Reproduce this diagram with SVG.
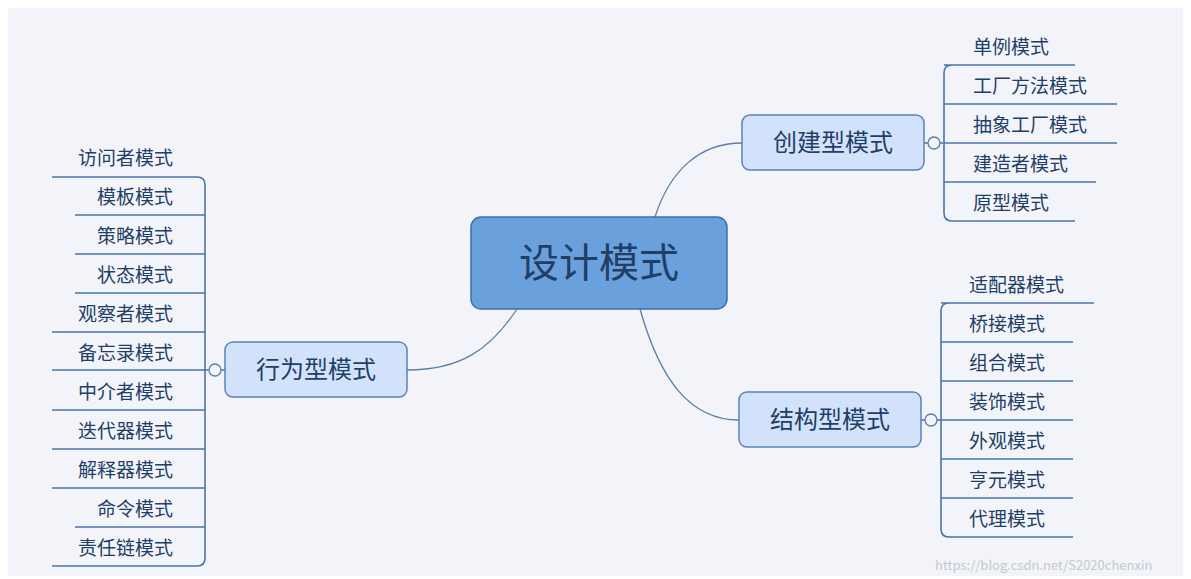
<svg xmlns="http://www.w3.org/2000/svg" width="1191" height="579" viewBox="0 0 1191 579">
<style>
text{font-family:"Noto Sans CJK SC","Liberation Sans",sans-serif;fill:#1f3f66}
.it{font-size:19px}
.sub{fill:#d3e2fb;stroke:#5b83b5;stroke-width:1.5}
.st{font-size:24px}
.ln{fill:none;stroke:#4a74a8;stroke-width:1.6}
.cur{fill:none;stroke:#5a7ea8;stroke-width:1.3}
.c{fill:#f3f4f9;stroke:#5a7ea8;stroke-width:1.3}
</style>
<rect width="1191" height="579" fill="#fff"/>
<rect x="8" y="8" width="1175" height="568" fill="#f3f4f9"/>
<g id="connectors">
<path class="cur" d="M655,217 C670,170 700,143 742,143"/>
<path class="cur" d="M640,309 C660,380 690,420 739,420"/>
<path class="cur" d="M517,309 C490,350 460,370 407,370"/>
<path class="ln" d="M924,143 H928 M940,143 H1117 M944,65 H1075 M952,65 Q944,65 944,73 V213 Q944,221 952,221 H1075 M944,104 H1117 M944,182 H1096"/>
<path class="ln" d="M921,420 H925 M937,420 H1073 M941,303 H1094 M949,303 Q941,303 941,311 V529 Q941,537 949,537 H1073 M941,342 H1073 M941,381 H1073 M941,459 H1073 M941,498 H1073"/>
<path class="ln" d="M225,370 H221 M209,370 H52 M205,185 Q205,177 197,177 H52 M205,185 V558 Q205,566 197,566 H52 M75,215 H205 M75,254 H205 M75,293 H205 M52,332 H205 M52,410 H205 M52,449 H205 M52,488 H205 M75,527 H205"/>
<circle class="c" cx="934" cy="143" r="6"/>
<circle class="c" cx="931" cy="420" r="6"/>
<circle class="c" cx="215" cy="370" r="6"/>
</g>
<g id="center"><rect x="471" y="217" width="256" height="92" rx="10" fill="#6aa0dc" stroke="#3f6fa8" stroke-width="1.5"/><text x="599" y="277" text-anchor="middle" font-size="40">设计模式</text></g>
<g id="create"><rect class="sub" x="742" y="115" width="182" height="55" rx="8"/><text class="st" x="833" y="151" text-anchor="middle">创建型模式</text></g>
<g id="struct"><rect class="sub" x="739" y="392" width="182" height="55" rx="8"/><text class="st" x="830" y="428" text-anchor="middle">结构型模式</text></g>
<g id="behav"><rect class="sub" x="225" y="342" width="182" height="55" rx="8"/><text class="st" x="316" y="378" text-anchor="middle">行为型模式</text></g>
<g id="create-items" class="it">
<text class="it" x="973" y="54">单例模式</text><text class="it" x="973" y="93">工厂方法模式</text><text class="it" x="973" y="132">抽象工厂模式</text><text class="it" x="973" y="171">建造者模式</text><text class="it" x="973" y="210">原型模式</text>
</g>
<g id="struct-items">
<text class="it" x="969" y="292">适配器模式</text><text class="it" x="969" y="331">桥接模式</text><text class="it" x="969" y="370">组合模式</text><text class="it" x="969" y="409">装饰模式</text><text class="it" x="969" y="448">外观模式</text><text class="it" x="969" y="487">亨元模式</text><text class="it" x="969" y="526">代理模式</text>
</g>
<g id="behav-items" text-anchor="end">
<text class="it" x="173" y="165">访问者模式</text><text class="it" x="173" y="204">模板模式</text><text class="it" x="173" y="243">策略模式</text><text class="it" x="173" y="282">状态模式</text><text class="it" x="173" y="321">观察者模式</text><text class="it" x="173" y="360">备忘录模式</text><text class="it" x="173" y="399">中介者模式</text><text class="it" x="173" y="438">迭代器模式</text><text class="it" x="173" y="477">解释器模式</text><text class="it" x="173" y="516">命令模式</text><text class="it" x="173" y="555">责任链模式</text>
</g>
<text x="935" y="570" font-size="13" style="fill:#c4c8d0">https://blog.csdn.net/S2020chenxin</text>
</svg>
